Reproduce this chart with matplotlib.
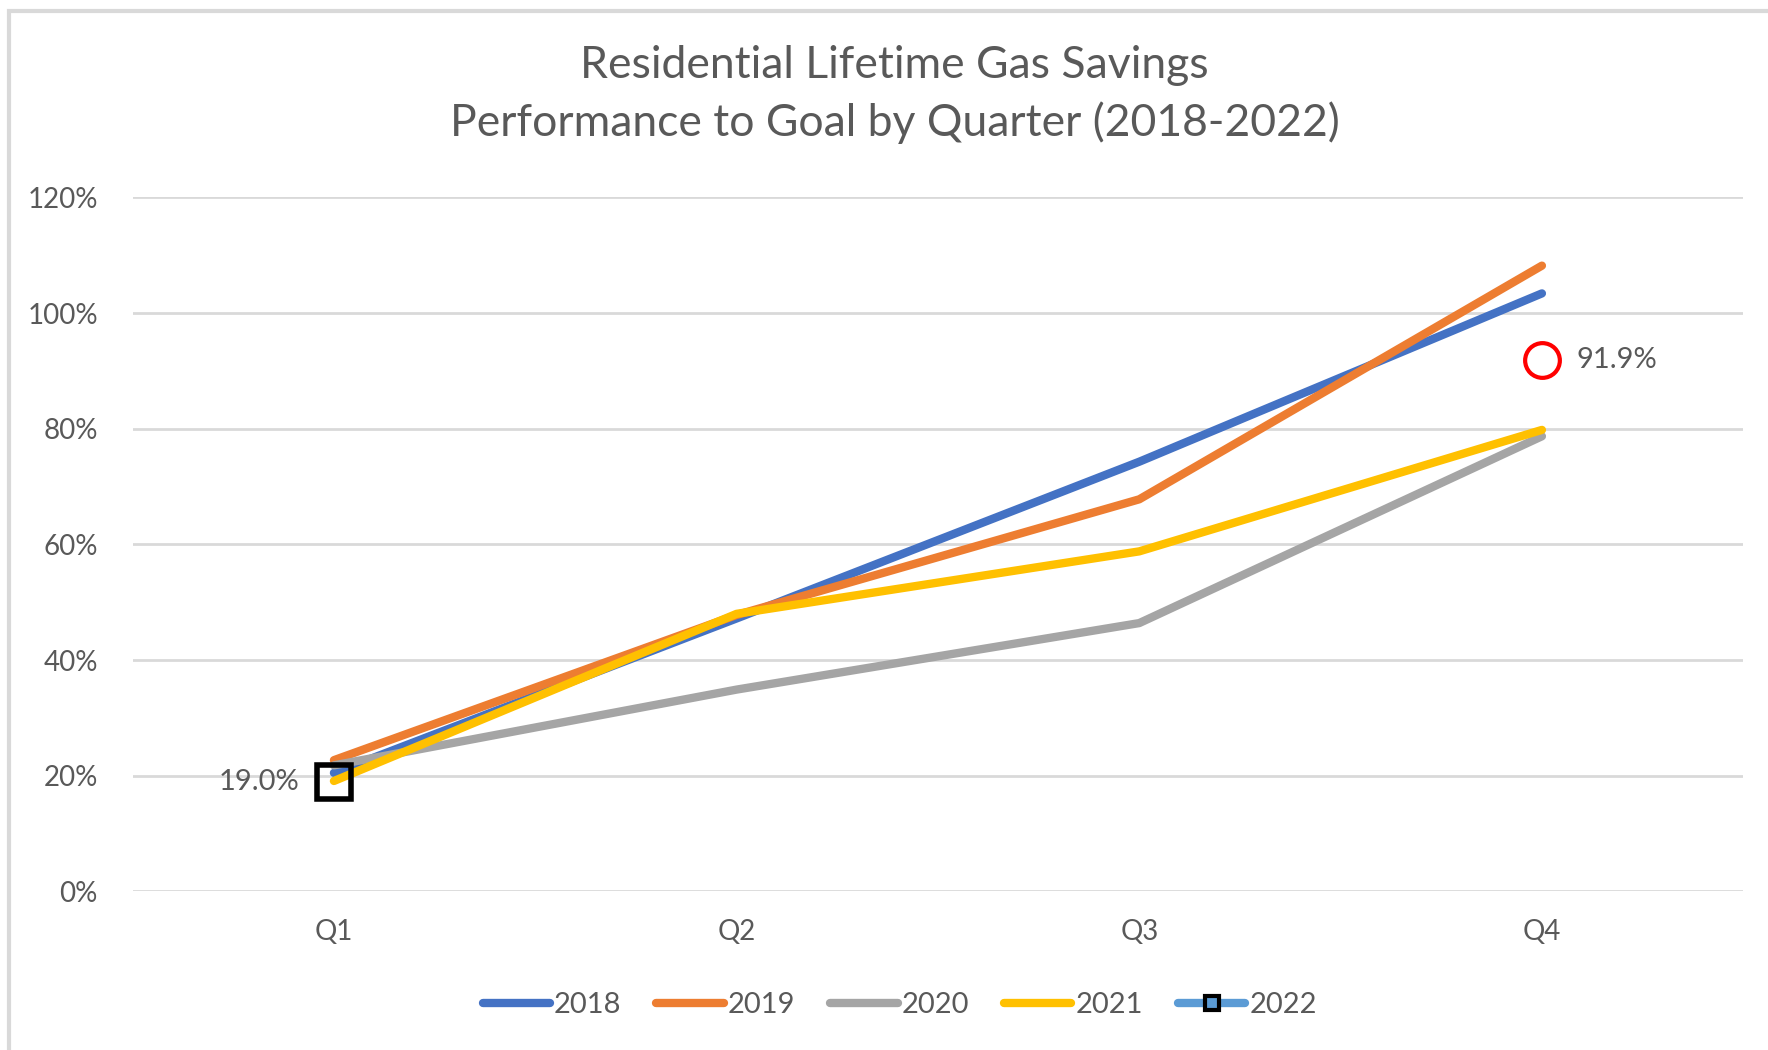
import matplotlib.pyplot as plt
from matplotlib.lines import Line2D
from matplotlib.patches import Rectangle
from matplotlib.ticker import PercentFormatter

plt.rcParams["font.family"] = ["Lato", "DejaVu Sans"]

quarters = ["Q1", "Q2", "Q3", "Q4"]
years = ["2018", "2019", "2020", "2021"]
values = {
    "2018": [0.205, 0.472, 0.743, 1.034],
    "2019": [0.227, 0.478, 0.678, 1.082],
    "2020": [0.218, 0.349, 0.464, 0.787],
    "2021": [0.191, 0.480, 0.588, 0.798],
}
colors = {
    "2018": "#4472C4",
    "2019": "#ED7D31",
    "2020": "#A5A5A5",
    "2021": "#FFC000",
}
values_2022 = [0.190]
goal_q4 = 0.919
text_gray = "#595959"

fig = plt.figure(figsize=(17.68, 10.5), dpi=100)
ax = fig.add_axes([0.075, 0.151, 0.911, 0.661])

x = list(range(len(quarters)))
handles = []
for yr in years:
    ax.plot(x, values[yr], color=colors[yr], lw=6, solid_capstyle="round", zorder=3)
    handles.append(Line2D([], [], color=colors[yr], lw=6, solid_capstyle="round", label=yr))

# 2022 so far: only Q1
ax.plot(x[:1], values_2022, color="#5B9BD5", lw=6, marker="s", ms=25,
        mfc="none", mec="black", mew=4, zorder=4)
handles.append(Line2D([], [], color="#5B9BD5", lw=6, solid_capstyle="round",
                      marker="s", ms=10, mfc="#5B9BD5", mec="black", mew=3, label="2022"))
ax.annotate(f"{values_2022[0]:.1%}", (x[0], values_2022[0]), xytext=(-25, 0),
            textcoords="offset points", ha="right", va="center",
            fontsize=21, color=text_gray)

# projected Q4 for 2022
ax.plot([x[3]], [goal_q4], marker="o", ms=25, mfc="none", mec="red", mew=3,
        zorder=4)
ax.annotate(f"{goal_q4:.1%}", (x[3], goal_q4), xytext=(25, 0),
            textcoords="offset points", ha="left", va="center",
            fontsize=21, color=text_gray)

ax.set_xlim(-0.5, 3.5)
ax.set_ylim(0, 1.2)
ax.set_yticks([0, 0.2, 0.4, 0.6, 0.8, 1.0, 1.2])
ax.yaxis.set_major_formatter(PercentFormatter(1.0, decimals=0))
ax.set_xticks(x)
ax.set_xticklabels(quarters)
ax.tick_params(axis="both", length=0, labelsize=20, labelcolor=text_gray)
ax.tick_params(axis="x", pad=20)
ax.tick_params(axis="y", pad=25)
ax.grid(axis="y", color="#D9D9D9", lw=2)
ax.set_axisbelow(True)
for s in ax.spines.values():
    s.set_visible(False)

fig.text(0.506, 0.91, "Residential Lifetime Gas Savings\nPerformance to Goal by Quarter (2018-2022)",
         ha="center", va="center", fontsize=32, color=text_gray, linespacing=1.45)

fig.legend(handles=handles, loc="center", bbox_to_anchor=(0.509, 0.043), ncol=5,
           frameon=False, fontsize=21, handlelength=2.3, handletextpad=0.15,
           columnspacing=1.2, labelcolor=text_gray)

fig.patches.append(Rectangle((0.005, -0.01), 1.2, 1.0, transform=fig.transFigure,
                             fill=False, ec="#D9D9D9", lw=3))

fig.savefig("out.png", dpi=100)
